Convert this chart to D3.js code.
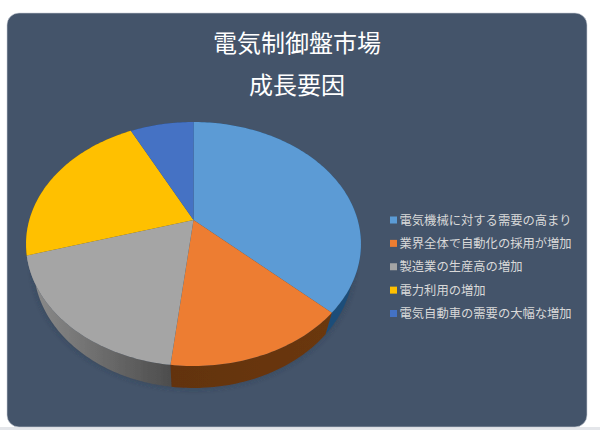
<!DOCTYPE html>
<html>
<head>
<meta charset="utf-8">
<script src="https://cdn.jsdelivr.net/npm/d3@7"></script>
<style>
html, body { margin: 0; padding: 0; background: #fff; }
svg { display: block; }
text { font-family: "Noto Sans CJK JP", sans-serif; }
</style>
</head>
<body>
<div id="chart"></div>
<script>
var width = 600;
var height = 430;

// values (percent share, estimated)
var categories = ["電気機械に対する需要の高まり", "業界全体で自動化の採用が増加", "製造業の生産高の増加", "電力利用の増加", "電気自動車の需要の大幅な増加"];
var shares = [37, 14.8, 18.6, 22.2, 7.4];
var titleLines = ["電気制御盤市場", "成長要因"];
var colors = ["#5b9bd5", "#ed7d31", "#a5a5a5", "#ffc000", "#4472c4"];
var wallColors = ["#1f4e79", "url(#wallOrange)", "url(#wallGray)", "#7f6000", "#264478"];

var svg = d3.select("#chart").append("svg")
	.attr("width", width)
	.attr("height", height);

var defs = svg.append("defs");

function wall_gradient(id, x1, x2, c1, c2) {
	var g = defs.append("linearGradient")
		.attr("id", id)
		.attr("gradientUnits", "userSpaceOnUse")
		.attr("x1", x1).attr("x2", x2)
		.attr("y1", 0).attr("y2", 0);
	g.append("stop").attr("offset", 0).attr("stop-color", c1);
	g.append("stop").attr("offset", 1).attr("stop-color", c2);
}
wall_gradient("wallGray", 30, 171, "#8c8c8c", "#4d4d4d");
wall_gradient("wallOrange", 171, 330, "#63330f", "#6a3710");

defs.append("filter").attr("id", "soft")
	.attr("x", "-10%").attr("y", "-10%").attr("width", "120%").attr("height", "120%")
	.append("feGaussianBlur").attr("stdDeviation", 3);
defs.append("filter").attr("id", "blur")
	.attr("x", "-5%").attr("y", "-5%").attr("width", "110%").attr("height", "110%")
	.append("feGaussianBlur").attr("stdDeviation", 0.5);

// panel
svg.append("rect")
	.attr("x", 0).attr("y", 427)
	.attr("width", width).attr("height", 3)
	.attr("fill", "#e4e6ea");
svg.append("rect")
	.attr("x", 7).attr("y", 13)
	.attr("width", 580).attr("height", 414)
	.attr("rx", 12)
	.attr("fill", "#44546a")
	.attr("stroke", "#c9ced6")
	.attr("stroke-width", 0.6);

// titles
svg.selectAll(".title").data(titleLines).enter().append("text")
	.attr("class", "title")
	.attr("x", 297)
	.attr("y", (d, i) => 52 + i * 42)
	.attr("text-anchor", "middle")
	.attr("font-size", 24)
	.attr("fill", "#ffffff")
	.text(d => d);

// pie seen in perspective: the flat circle is projected onto the screen
var cx = 193.5;
var apexY = 220;
var radius = 164.2;
var C = -0.1967;
var A = 74;

function project(angle) {
	var u = Math.sin(angle);
	var v = -Math.cos(angle);
	var w = C * v + 1;
	return [cx + radius * u / w, (A * v + apexY) / w];
}

// the bottom rim is the same outline, moved down and a little narrower
function lower(p) {
	return [cx + (p[0] - cx) * 0.955, 265 + (p[1] - 244) * 1.008];
}

function arc_points(a0, a1) {
	var n = Math.max(2, Math.ceil((a1 - a0) / 0.02));
	return d3.range(n + 1).map(i => project(a0 + (a1 - a0) * i / n));
}

var pie = d3.pie().sort(null)(shares);
var line = d3.line();
var chart = svg.append("g").attr("filter", "url(#blur)");

// soft shadow under the pie
chart.append("path")
	.attr("d", line(arc_points(0, 2 * Math.PI).map(lower)) + "Z")
	.attr("fill", "#2c3a4c")
	.attr("opacity", 0.55)
	.attr("filter", "url(#soft)");

// side walls, back ones first
var wallOrder = [3, 4, 0, 2, 1];
chart.selectAll(".wall").data(wallOrder).enter().append("path")
	.attr("class", "wall")
	.attr("d", function (i) {
		var top = arc_points(pie[i].startAngle, pie[i].endAngle);
		var bottom = top.map(lower).reverse();
		return line(top.concat(bottom)) + "Z";
	})
	.attr("fill", i => wallColors[i]);

// top face
chart.selectAll(".slice").data(pie).enter().append("path")
	.attr("class", "slice")
	.attr("d", d => line([project(0).map((v, k) => k ? apexY : cx)].concat(arc_points(d.startAngle, d.endAngle))) + "Z")
	.attr("fill", (d, i) => colors[i]);

// legend
var legendY = d3.scalePoint()
	.domain(categories)
	.range([220, 313.5]);

var legend = svg.selectAll(".legend").data(categories).enter().append("g")
	.attr("class", "legend")
	.attr("transform", d => `translate(0, ${legendY(d)})`);

legend.append("rect")
	.attr("x", 390).attr("y", -3.5)
	.attr("width", 7).attr("height", 7)
	.attr("fill", (d, i) => colors[i]);

legend.append("text")
	.attr("x", 399.5)
	.attr("y", 4.5)
	.attr("font-size", 12.3)
	.attr("fill", "#d9d9d9")
	.text(d => d);
</script>
</body>
</html>
